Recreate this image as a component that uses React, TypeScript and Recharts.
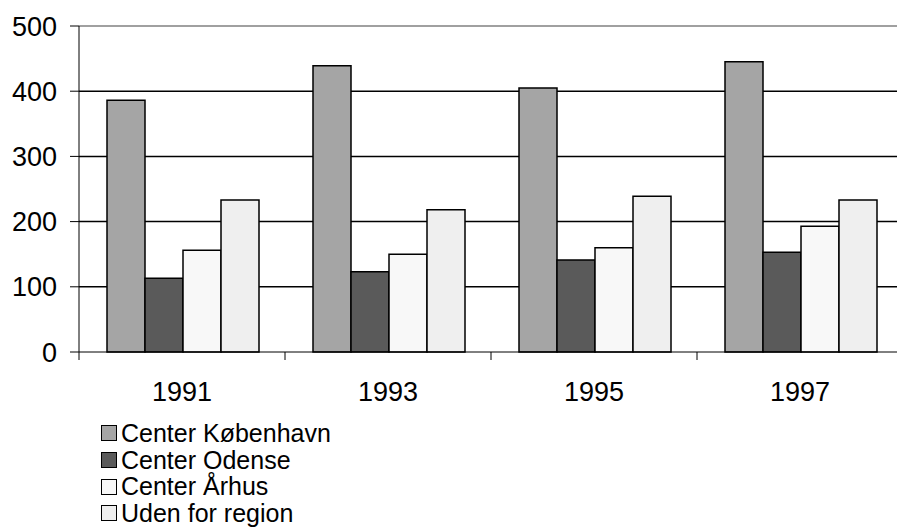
import { BarChart, Bar, XAxis, YAxis, CartesianGrid, ReferenceLine } from "recharts";

const years = ["1991", "1993", "1995", "1997"];
const koebenhavn = [386, 439, 405, 445];
const odense = [113, 123, 141, 153];
const aarhus = [156, 150, 160, 193];
const udenForRegion = [233, 218, 239, 233];
const yTicks = [0, 100, 200, 300, 400, 500];

const series = [
  { key: "kbh", name: "Center København", color: "#a5a5a5" },
  { key: "ode", name: "Center Odense", color: "#5a5a5a" },
  { key: "aar", name: "Center Århus", color: "#f8f8f8" },
  { key: "uden", name: "Uden for region", color: "#efefef" },
];

const data = years.map((year, i) => ({
  year,
  kbh: koebenhavn[i],
  ode: odense[i],
  aar: aarhus[i],
  uden: udenForRegion[i],
}));

const FONT = "'Liberation Sans', Arial, sans-serif";
const HALF_BAND = 103;

function YearTick(props: any) {
  const { x, y, payload } = props;
  return (
    <g>
      <line x1={x - HALF_BAND} x2={x - HALF_BAND} y1={y} y2={y + 8} stroke="#000" strokeWidth={1} />
      <text
        x={x}
        y={y + 49}
        textAnchor="middle"
        fontSize={27}
        fontFamily={FONT}
        fill="#000"
      >
        {payload.value}
      </text>
    </g>
  );
}

export default function App() {
  return (
    <div
      style={{
        position: "absolute",
        left: 0,
        top: 0,
        width: 897,
        height: 527,
        overflow: "hidden",
        background: "#fff",
      }}
    >
      <BarChart
        width={910}
        height={527}
        data={data}
        margin={{ top: 26, right: 7, bottom: 115, left: 0 }}
        barCategoryGap={28}
        barGap={0}
      >
        <CartesianGrid
          vertical={false}
          horizontalValues={[100, 200, 300, 400]}
          stroke="#000"
          strokeWidth={1.5}
        />
        <ReferenceLine y={500} stroke="#808080" strokeWidth={1.5} />
        <XAxis
          dataKey="year"
          height={60}
          tickLine={false}
          tickSize={0}
          tickMargin={0}
          axisLine={{ stroke: "#000", strokeWidth: 1 }}
          tick={<YearTick />}
          interval={0}
        />
        <YAxis
          width={79}
          domain={[0, 500]}
          ticks={yTicks}
          tickSize={9}
          tickMargin={13}
          axisLine={{ stroke: "#000", strokeWidth: 1 }}
          tickLine={{ stroke: "#000", strokeWidth: 1 }}
          tick={{ fontSize: 27, fontFamily: FONT, fill: "#000" }}
        />
        {series.map((s) => (
          <Bar
            key={s.key}
            dataKey={s.key}
            name={s.name}
            fill={s.color}
            stroke="#000"
            strokeWidth={1.5}
            isAnimationActive={false}
          />
        ))}
      </BarChart>
      <div
        style={{
          position: "absolute",
          left: 101,
          top: 420,
          fontFamily: FONT,
          fontSize: 25,
          color: "#000",
        }}
      >
        {series.map((s) => (
          <div
            key={s.key}
            style={{ display: "flex", alignItems: "center", height: 26.7 }}
          >
            <span
              style={{
                display: "inline-block",
                width: 14,
                height: 14,
                background: s.color,
                border: "1.5px solid #000",
                marginRight: 4,
              }}
            />
            <span>{s.name}</span>
          </div>
        ))}
      </div>
    </div>
  );
}
